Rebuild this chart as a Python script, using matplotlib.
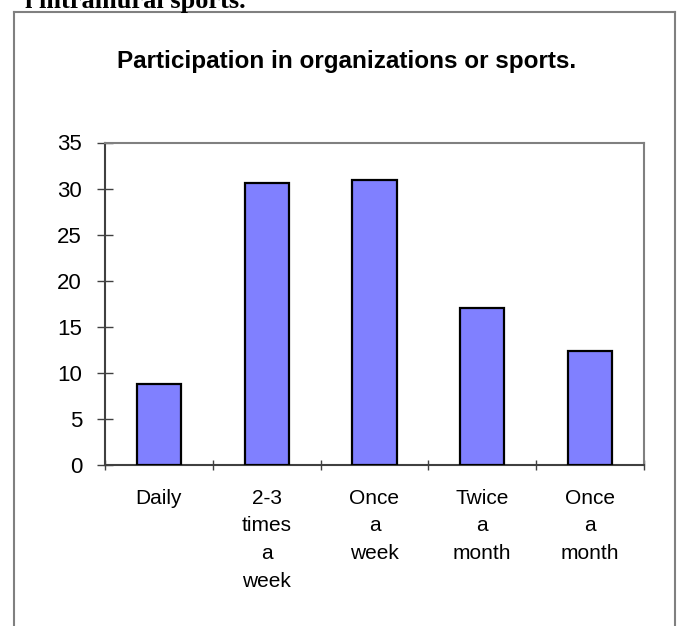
import matplotlib
matplotlib.use("Agg")
import matplotlib.pyplot as plt
from matplotlib.lines import Line2D

categories = ["Daily", "2-3\ntimes\na\nweek", "Once\na\nweek", "Twice\na\nmonth", "Once\na\nmonth"]
values = [8.8, 30.6, 30.9, 17.0, 12.4]
yticks = [0, 5, 10, 15, 20, 25, 30, 35]
title = "Participation in organizations or sports."
header = "l intramural sports."

W, H = 679, 626
fig = plt.figure(figsize=(W / 100, H / 100), dpi=100)

def px(x, y):
    return x / W, 1 - y / H

# outer frame (left, top, right)
frame_col = "#808080"
x0, y0 = px(13.5, 11.5)
x1, _ = px(675, 11.5)
_, yb = px(0, 640)
fig.add_artist(Line2D([x0, x0], [yb, y0], color=frame_col, lw=1.5, transform=fig.transFigure))
fig.add_artist(Line2D([x0, x1], [y0, y0], color=frame_col, lw=1.5, transform=fig.transFigure))
fig.add_artist(Line2D([x1, x1], [y0, yb], color=frame_col, lw=1.5, transform=fig.transFigure))

# header text (cut off at top)
hx, hy = px(246, 8)
fig.text(hx, hy, header, ha="right", va="baseline", fontsize=19, fontweight="bold",
         family=["Liberation Serif", "DejaVu Serif"])

# title
tx, ty = px(347, 68)
fig.text(tx, ty, title, ha="center", va="baseline", fontsize=17.5, fontweight="bold",
         family=["Liberation Sans"])

left, right = 105 / W, 644 / W
bottom, top = 1 - 465 / H, 1 - 142.5 / H
ax = fig.add_axes([left, bottom, right - left, top - bottom])

xs = list(range(len(categories)))
ax.bar(xs, values, width=0.41, color="#8080FF", edgecolor="black", linewidth=1.6, zorder=3)

ax.set_xlim(-0.5, len(categories) - 0.5)
ax.set_ylim(0, 35)
ax.set_yticks(yticks)
ax.set_yticklabels([str(v) for v in yticks], family=["Liberation Sans"], fontsize=16)
ax.tick_params(axis="y", direction="inout", length=11.5, width=1.0, color="#404040", pad=10.8)

ax.set_xticks(xs)
ax.set_xticklabels(categories, family=["Liberation Sans"], fontsize=15, linespacing=1.58)
ax.tick_params(axis="x", which="major", length=0, pad=17)
ax.set_xticks([i - 0.5 for i in range(len(categories) + 1)], minor=True)
ax.tick_params(axis="x", which="minor", direction="inout", length=7.2, width=1.0, color="#404040")

for s in ["left", "bottom"]:
    ax.spines[s].set_color("#404040")
    ax.spines[s].set_linewidth(1.5)
for s in ["top", "right"]:
    ax.spines[s].set_color("#808080")
    ax.spines[s].set_linewidth(1.5)

fig.savefig("out.png", dpi=100)
